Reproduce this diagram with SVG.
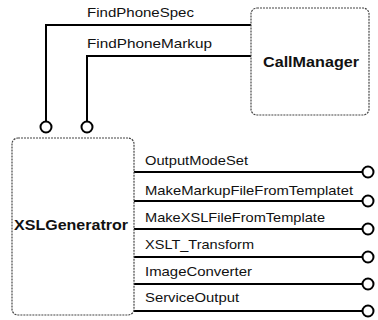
<svg xmlns="http://www.w3.org/2000/svg" width="378" height="320" viewBox="0 0 378 320">
<style>
.box{fill:#fff;stroke:#444;stroke-width:1.2;stroke-dasharray:2 1}
.name{font-family:"Liberation Sans",Arial,sans-serif;font-size:14px;font-weight:bold;fill:#111}
.lbl{font-family:"Liberation Sans",Arial,sans-serif;font-size:13px;fill:#111}
.wire{fill:none;stroke:#000;stroke-width:2}
.sock{fill:#fff;stroke:#000;stroke-width:2}
</style>
<rect width="378" height="320" fill="#fff"/>
<g id="connectors">
<path class="wire" d="M251 25 H46 V121.5"/>
<circle class="sock" cx="46" cy="127" r="5.5"/>
<path class="wire" d="M251 56 H87 V121.5"/>
<circle class="sock" cx="87" cy="127" r="5.5"/>
<text class="lbl" x="87" y="17" textLength="107" lengthAdjust="spacingAndGlyphs">FindPhoneSpec</text>
<text class="lbl" x="87" y="48" textLength="125" lengthAdjust="spacingAndGlyphs">FindPhoneMarkup</text>
<path class="wire" d="M134 172 H362.5"/>
<circle class="sock" cx="368" cy="172" r="5.5"/>
<text class="lbl" x="145" y="165" textLength="103" lengthAdjust="spacingAndGlyphs">OutputModeSet</text>
<path class="wire" d="M134 201 H362.5"/>
<circle class="sock" cx="368" cy="201" r="5.5"/>
<text class="lbl" x="145" y="195" textLength="208" lengthAdjust="spacingAndGlyphs">MakeMarkupFileFromTemplatet</text>
<path class="wire" d="M134 229 H362.5"/>
<circle class="sock" cx="368" cy="229" r="5.5"/>
<text class="lbl" x="145" y="222" textLength="180" lengthAdjust="spacingAndGlyphs">MakeXSLFileFromTemplate</text>
<path class="wire" d="M134 257 H362.5"/>
<circle class="sock" cx="368" cy="257" r="5.5"/>
<text class="lbl" x="145" y="249" textLength="109" lengthAdjust="spacingAndGlyphs">XSLT_Transform</text>
<path class="wire" d="M134 284 H362.5"/>
<circle class="sock" cx="368" cy="284" r="5.5"/>
<text class="lbl" x="145" y="276" textLength="107" lengthAdjust="spacingAndGlyphs">ImageConverter</text>
<path class="wire" d="M134 311 H362.5"/>
<circle class="sock" cx="368" cy="311" r="5.5"/>
<text class="lbl" x="145" y="302" textLength="94" lengthAdjust="spacingAndGlyphs">ServiceOutput</text>
</g>
<g id="CallManager">
<rect class="box" x="251" y="8" width="118" height="107" rx="6"/>
<text class="name" x="263" y="67" textLength="96" lengthAdjust="spacingAndGlyphs">CallManager</text>
</g>
<g id="XSLGeneratror">
<rect class="box" x="12" y="138" width="122" height="177" rx="6"/>
<text class="name" x="14" y="230" textLength="114" lengthAdjust="spacingAndGlyphs">XSLGeneratror</text>
</g>
</svg>
